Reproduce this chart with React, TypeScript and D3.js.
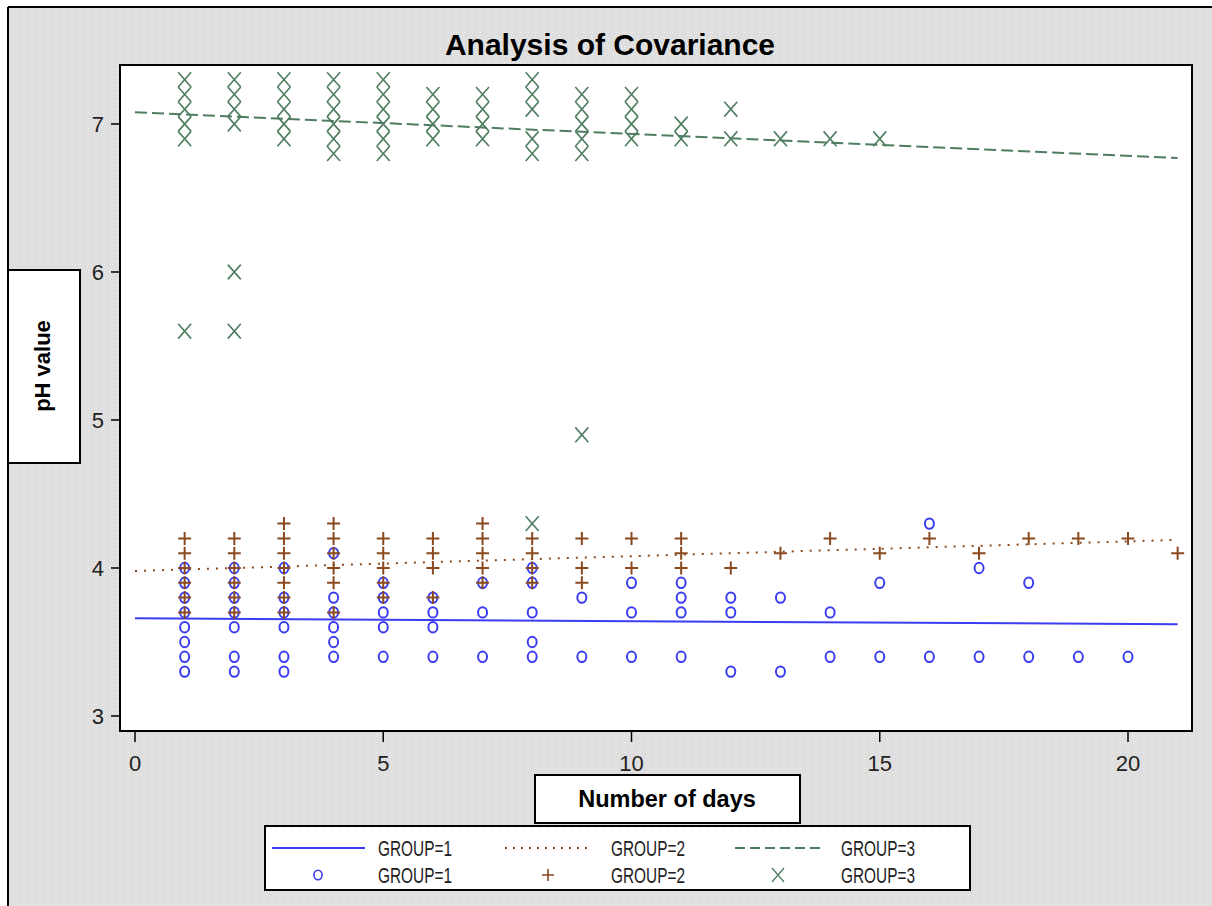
import React from "react";
import * as d3 from "d3";

// ---- data ----
const days = [1, 2, 3, 4, 5, 6, 7, 8, 9, 10, 11, 12, 13, 14, 15, 16, 17, 18, 19, 20, 21];

const group1Values: number[][] = [
  [4.0, 3.9, 3.8, 3.7, 3.6, 3.5, 3.4, 3.3],
  [4.0, 3.9, 3.8, 3.7, 3.6, 3.4, 3.3],
  [4.0, 3.8, 3.7, 3.6, 3.4, 3.3],
  [4.1, 3.8, 3.7, 3.6, 3.5, 3.4],
  [3.9, 3.8, 3.7, 3.6, 3.4],
  [3.8, 3.7, 3.6, 3.4],
  [3.9, 3.7, 3.4],
  [4.0, 3.9, 3.7, 3.5, 3.4],
  [3.8, 3.4],
  [3.9, 3.7, 3.4],
  [3.9, 3.8, 3.7, 3.4],
  [3.8, 3.7, 3.3],
  [3.8, 3.3],
  [3.7, 3.4],
  [3.9, 3.4],
  [4.3, 3.4],
  [4.0, 3.4],
  [3.9, 3.4],
  [3.4],
  [3.4],
  [],
];

const group2Values: number[][] = [
  [4.2, 4.1, 4.0, 3.9, 3.8, 3.7],
  [4.2, 4.1, 4.0, 3.9, 3.8, 3.7],
  [4.3, 4.2, 4.1, 4.0, 3.9, 3.8, 3.7],
  [4.3, 4.2, 4.1, 4.0, 3.9, 3.7],
  [4.2, 4.1, 4.0, 3.9, 3.8],
  [4.2, 4.1, 4.0, 3.8],
  [4.3, 4.2, 4.1, 4.0, 3.9],
  [4.2, 4.1, 4.0, 3.9],
  [4.2, 4.0, 3.9],
  [4.2, 4.0],
  [4.2, 4.1, 4.0],
  [4.0],
  [4.1],
  [4.2],
  [4.1],
  [4.2],
  [4.1],
  [4.2],
  [4.2],
  [4.2],
  [4.1],
];

const group3Values: number[][] = [
  [7.3, 7.2, 7.1, 7.0, 6.9, 5.6],
  [7.3, 7.2, 7.1, 7.0, 6.0, 5.6],
  [7.3, 7.2, 7.1, 7.0, 6.9],
  [7.3, 7.2, 7.1, 7.0, 6.9, 6.8],
  [7.3, 7.2, 7.1, 7.0, 6.9, 6.8],
  [7.2, 7.1, 7.0, 6.9],
  [7.2, 7.1, 7.0, 6.9],
  [7.3, 7.2, 7.1, 6.9, 6.8, 4.3],
  [7.2, 7.1, 7.0, 6.9, 6.8, 4.9],
  [7.2, 7.1, 7.0, 6.9],
  [7.0, 6.9],
  [7.1, 6.9],
  [6.9],
  [6.9],
  [6.9],
  [],
  [],
  [],
  [],
  [],
  [],
];

// fitted lines (endpoints at day 0 and day 21)
const lineDays = [0, 21];
const group1Line = [3.66, 3.62];
const group2Line = [3.98, 4.19];
const group3Line = [7.08, 6.77];

const xTicks = [0, 5, 10, 15, 20];
const yTicks = [3, 4, 5, 6, 7];
const legendLabels = ["GROUP=1", "GROUP=2", "GROUP=3"];

const C1 = "#3c3cf0";
const C2 = "#8a4a1e";
const C3 = "#4f7d60";

function flatten(vals: number[][]) {
  const out: { d: number; v: number }[] = [];
  vals.forEach((arr, i) => arr.forEach((v) => out.push({ d: days[i], v })));
  return out;
}

export default function App() {
  const W = 1212;
  const H = 906;
  const frame = { x0: 120, y0: 65, x1: 1192, y1: 731 };
  const x = d3.scaleLinear().domain([0, 20]).range([135, 1128]);
  const y = d3.scaleLinear().domain([3, 7]).range([716, 124]);

  const g1 = flatten(group1Values);
  const g2 = flatten(group2Values);
  const g3 = flatten(group3Values);

  const line = d3
    .line<number>()
    .x((_, i) => x(lineDays[i]))
    .y((v) => y(v));

  const font = "'Liberation Sans', Arial, sans-serif";

  const dotPositions = [
    [0, 0], [3, 1], [6, 0], [1, 3], [4, 4], [7, 3], [2, 6], [5, 7], [0, 6], [6, 5],
  ];

  const legendRows = [848, 875];
  const legendCols = [272, 505, 735];

  return (
    <svg
      width={W}
      height={H}
      style={{ position: "absolute", left: 0, top: 0, display: "block" }}
      xmlns="http://www.w3.org/2000/svg"
    >
      <defs>
        <pattern id="speckle" width="8" height="8" patternUnits="userSpaceOnUse">
          <rect width="8" height="8" fill="#dcdcdc" />
          {dotPositions.map(([px, py], i) => (
            <rect key={i} x={px} y={py} width="1" height="1" fill="#f2f2f2" />
          ))}
        </pattern>
      </defs>
      <rect x={0} y={0} width={W} height={H} fill="#ffffff" />
      <rect x={8} y={7} width={W - 8} height={H - 7} fill="url(#speckle)" />
      <line x1={8} y1={7} x2={W} y2={7} stroke="#000" strokeWidth={2} />
      <line x1={8} y1={7} x2={8} y2={H} stroke="#000" strokeWidth={2} />

      {/* Title */}
      <text
        x={610}
        y={55}
        textAnchor="middle"
        fontFamily={font}
        fontWeight="bold"
        fontSize={30}
        fill="#000"
      >
        Analysis of Covariance
      </text>

      {/* plot frame */}
      <rect
        x={frame.x0}
        y={frame.y0}
        width={frame.x1 - frame.x0}
        height={frame.y1 - frame.y0}
        fill="#fff"
        stroke="#000"
        strokeWidth={2}
      />

      {/* y axis ticks */}
      {yTicks.map((t) => (
        <g key={"y" + t}>
          <line x1={111} x2={frame.x0} y1={y(t)} y2={y(t)} stroke="#000" strokeWidth={1.5} />
          <text
            x={104}
            y={y(t) + 8}
            textAnchor="end"
            fontFamily={font}
            fontSize={22}
            fill="#222"
          >
            {t}
          </text>
        </g>
      ))}

      {/* x axis ticks */}
      {xTicks.map((t) => (
        <g key={"x" + t}>
          <line x1={x(t)} x2={x(t)} y1={frame.y1} y2={742} stroke="#000" strokeWidth={1.5} />
          <text
            x={x(t)}
            y={771}
            textAnchor="middle"
            fontFamily={font}
            fontSize={22}
            fill="#222"
          >
            {t}
          </text>
        </g>
      ))}

      {/* fitted lines */}
      <path d={line(group1Line) || ""} fill="none" stroke={C1} strokeWidth={2} />
      <path
        d={line(group2Line) || ""}
        fill="none"
        stroke={C2}
        strokeWidth={2}
        strokeDasharray="2,7"
      />
      <path
        d={line(group3Line) || ""}
        fill="none"
        stroke={C3}
        strokeWidth={2}
        strokeDasharray="12,5"
      />

      {/* group 1 circles */}
      {g1.map((p, i) => (
        <ellipse
          key={"c" + i}
          cx={x(p.d)}
          cy={y(p.v)}
          rx={4.5}
          ry={5.2}
          fill="none"
          stroke={C1}
          strokeWidth={2}
        />
      ))}
      {/* group 2 plus */}
      {g2.map((p, i) => {
        const cx = x(p.d);
        const cy = y(p.v);
        return (
          <path
            key={"p" + i}
            d={`M${cx - 6.5},${cy}H${cx + 6.5}M${cx},${cy - 6.5}V${cy + 6.5}`}
            stroke={C2}
            strokeWidth={2}
            fill="none"
          />
        );
      })}
      {/* group 3 crosses */}
      {g3.map((p, i) => {
        const cx = x(p.d);
        const cy = y(p.v);
        return (
          <path
            key={"x" + i}
            d={`M${cx - 6.5},${cy - 7.4}L${cx + 6.5},${cy + 7.4}M${cx - 6.5},${cy + 7.4}L${cx + 6.5},${cy - 7.4}`}
            stroke={C3}
            strokeWidth={1.6}
            fill="none"
          />
        );
      })}

      {/* Y label box */}
      <rect x={8} y={270} width={72} height={193} fill="#fff" stroke="#000" strokeWidth={2} />
      <text
        transform={`translate(50,366) rotate(-90)`}
        textAnchor="middle"
        fontFamily={font}
        fontWeight="bold"
        fontSize={22}
        fill="#000"
      >
        pH value
      </text>

      {/* X label box */}
      <rect x={535} y={775} width={265} height={48} fill="#fff" stroke="#000" strokeWidth={2} />
      <text
        x={667}
        y={807}
        textAnchor="middle"
        fontFamily={font}
        fontWeight="bold"
        fontSize={23.5}
        fill="#000"
      >
        Number of days
      </text>

      {/* Legend */}
      <rect x={265} y={826} width={705} height={64} fill="#fff" stroke="#000" strokeWidth={2} />
      {/* row 1 lines */}
      <line x1={legendCols[0]} x2={legendCols[0] + 93} y1={legendRows[0]} y2={legendRows[0]} stroke={C1} strokeWidth={2} />
      <line x1={legendCols[1]} x2={legendCols[1] + 86} y1={legendRows[0]} y2={legendRows[0]} stroke={C2} strokeWidth={2} strokeDasharray="2,6" />
      <line x1={legendCols[2]} x2={legendCols[2] + 90} y1={legendRows[0]} y2={legendRows[0]} stroke={C3} strokeWidth={2} strokeDasharray="10,5" />
      {/* row 2 markers */}
      <ellipse cx={legendCols[0] + 46} cy={legendRows[1]} rx={4} ry={4.8} fill="none" stroke={C1} strokeWidth={1.6} />
      <path
        d={`M${legendCols[1] + 43 - 6},${legendRows[1]}H${legendCols[1] + 43 + 6}M${legendCols[1] + 43},${legendRows[1] - 6}V${legendRows[1] + 6}`}
        stroke={C2}
        strokeWidth={1.6}
      />
      <path
        d={`M${legendCols[2] + 43 - 6},${legendRows[1] - 7}L${legendCols[2] + 43 + 6},${legendRows[1] + 7}M${legendCols[2] + 43 - 6},${legendRows[1] + 7}L${legendCols[2] + 43 + 6},${legendRows[1] - 7}`}
        stroke={C3}
        strokeWidth={1.3}
      />
      {legendRows.map((ry, r) =>
        legendLabels.map((lab, c) => (
          <text
            key={"l" + r + c}
            x={legendCols[c] + 106}
            y={ry + 8}
            fontFamily={font}
            fontSize={22}
            fill="#222"
            textLength={74}
            lengthAdjust="spacingAndGlyphs"
          >
            {lab}
          </text>
        ))
      )}
    </svg>
  );
}
